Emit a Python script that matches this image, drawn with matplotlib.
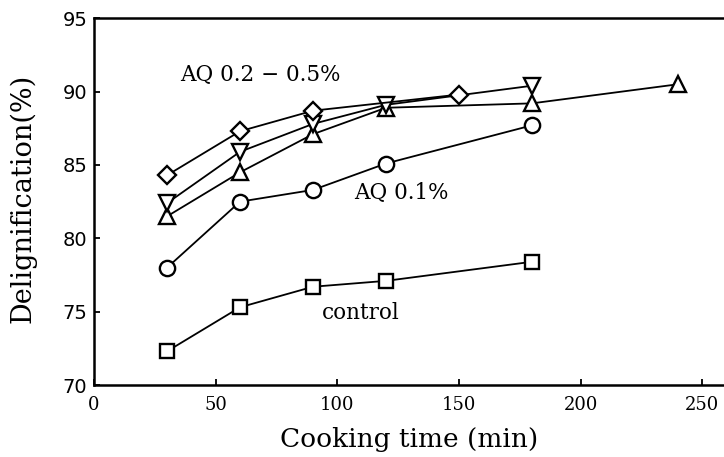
import matplotlib
matplotlib.use("Agg")
import matplotlib.pyplot as plt

# Data (cooking time in min, delignification in %)
t_control = [30, 60, 90, 120, 180]
y_control = [72.3, 75.3, 76.7, 77.1, 78.4]

t_aq01 = [30, 60, 90, 120, 180]
y_aq01 = [78.0, 82.5, 83.3, 85.1, 87.7]

t_diamond = [30, 60, 90, 150]
y_diamond = [84.3, 87.3, 88.7, 89.8]

t_down = [30, 60, 90, 120, 180]
y_down = [82.4, 85.9, 87.8, 89.1, 90.4]

t_up = [30, 60, 90, 120, 180, 240]
y_up = [81.5, 84.5, 87.1, 88.9, 89.2, 90.5]

xticks = [0, 50, 100, 150, 200, 250]
yticks = [70, 75, 80, 85, 90, 95]

fig = plt.figure(figsize=(7.24, 4.57), dpi=100)
ax = fig.add_axes([0.130, 0.1575, 0.870, 0.8025])

style = dict(color="black", lw=1.3, markersize=11, markerfacecolor="white",
             markeredgecolor="black", markeredgewidth=1.7)
ax.plot(t_control, y_control, marker="s", **dict(style, markersize=10.5))
ax.plot(t_aq01, y_aq01, marker="o", **style)
ax.plot(t_up, y_up, marker="^", **style)
ax.plot(t_down, y_down, marker="v", **style)
ax.plot(t_diamond, y_diamond, marker="D", **dict(style, markersize=9))

ax.set_xlim(0, 259)
ax.set_ylim(70, 95)
ax.set_xticks(xticks)
ax.set_yticks(yticks)
ax.spines["right"].set_visible(False)
for s in ["left", "bottom", "top"]:
    ax.spines[s].set_linewidth(1.8)
ax.tick_params(direction="in", length=4, width=1.3)
ax.tick_params(axis="x", pad=8)
ax.tick_params(axis="y", pad=5)
for lab in ax.get_xticklabels():
    lab.set_fontfamily("DejaVu Serif")
    lab.set_fontsize(13)
for lab in ax.get_yticklabels():
    lab.set_fontfamily("DejaVu Sans")
    lab.set_fontsize(14)

ax.set_xlabel("Cooking time (min)", fontfamily="DejaVu Serif", fontsize=19, labelpad=9)
ax.set_ylabel("Delignification(%)", fontfamily="DejaVu Serif", fontsize=19.5)
ax.yaxis.set_label_coords(-0.092, 0.51)

tfont = dict(fontfamily="DejaVu Serif", fontsize=15.5, va="center", ha="left")
ax.text(35.5, 91.1, "AQ 0.2 \u2212 0.5%", **tfont)
ax.text(107, 83.1, "AQ 0.1%", **tfont)
ax.text(93.5, 74.9, "control", **tfont)

fig.savefig("out.png", dpi=100)
